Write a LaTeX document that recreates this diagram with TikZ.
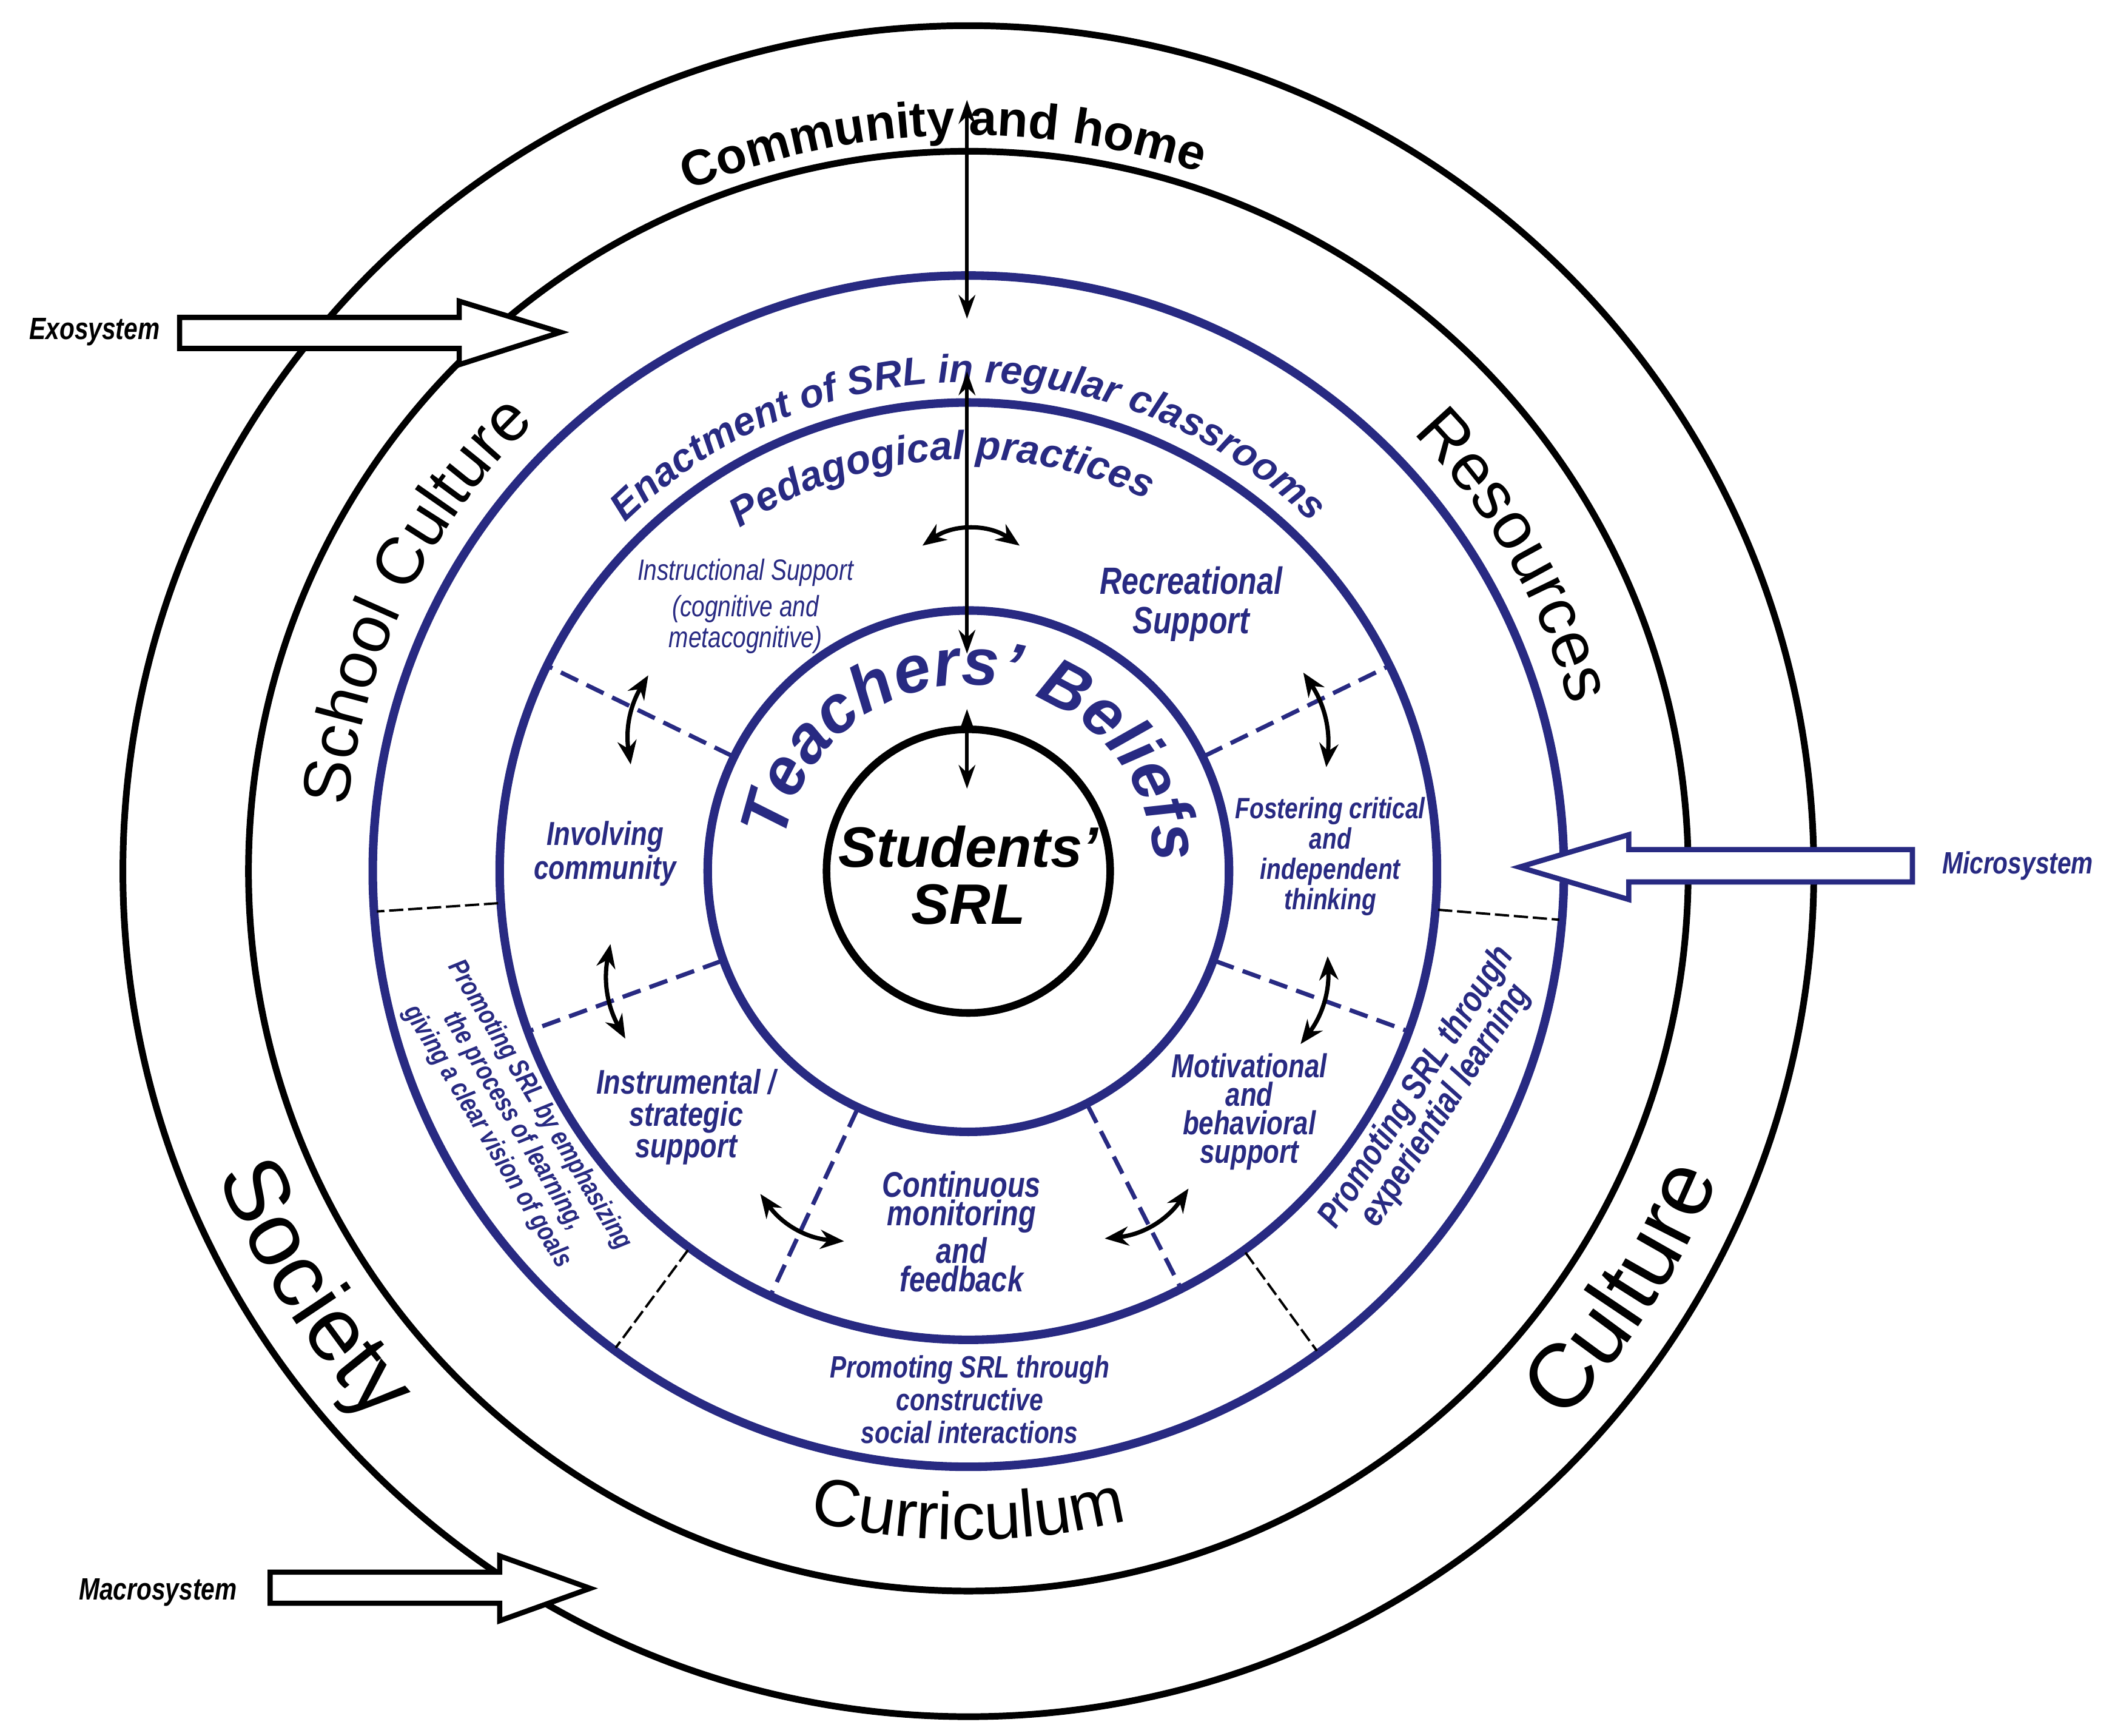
\documentclass[tikz,border=0pt]{standalone}
\usepackage{fontspec}
\setmainfont{Liberation Sans}
\newfontfamily\nar{Liberation Sans}[FakeStretch=0.8]
\usetikzlibrary{decorations.text,arrows.meta}
\definecolor{navy}{RGB}{40,42,130}
\newcommand\arctext[6]{%
\path[decorate,decoration={text along path,text align=center,text color=#4,text={|#5|#6}}] (#2:#1) arc[start angle=#2,end angle=#3,radius=#1];}
\begin{document}
\begin{tikzpicture}[x=0.01cm,y=0.01cm,
 ring/.style={line width=1.4pt,draw=black},
 bring/.style={line width=1.8pt,draw=navy},
 lab/.style={font=\nar\bfseries\itshape, text=navy, align=center, inner sep=0pt},
 blab/.style={font=\nar\bfseries\itshape, text=black, align=center, inner sep=0pt},
 dbl/.style={line width=0.8pt,{Stealth[length=5pt,width=3.5pt]}-{Stealth[length=5pt,width=3.5pt]}},
 cur/.style={line width=0.9pt,{Stealth[length=5pt,width=4pt]}-{Stealth[length=5pt,width=4pt]}},
 bdash/.style={draw=navy,line width=0.9pt,dash pattern=on 4pt off 2pt},
 kdash/.style={draw=black,line width=0.5pt,dash pattern=on 3pt off 1pt},
 blk/.style={fill=white,line width=1.1pt,line join=miter}]
\useasboundingbox (-717,-640) rectangle (849,645);
% circles
\draw[ring] (0,0) circle[radius=626];
\draw[ring] (0,0) circle[radius=533];
\draw[bring] (0,0) circle[radius=441];
\draw[bring] (0,0) circle[radius=347];
\draw[bring] (0,0) circle[radius=193];
\draw[line width=1.6pt] (0,0) circle[radius=105];
% dashed separators
\foreach \a in {154,26,200,340,245,297} \draw[bdash] (\a:195) -- (\a:347);
\foreach \a in {183.9,355.3,233.5,306} \draw[kdash] (\a:349) -- (\a:439);
% arc texts
\arctext{545}{142}{42}{black}{\bfseries\fontsize{10.5}{12}\selectfont}{Community  and  home}
\arctext{462}{200}{108}{black}{\fontsize{14}{16}\selectfont}{School Culture}
\arctext{462}{72}{-12}{black}{\fontsize{14}{16}\selectfont}{Resources}
\arctext{600}{180}{245}{black}{\fontsize{19}{22}\selectfont}{Society}
\arctext{600}{295}{360}{black}{\fontsize{19}{22}\selectfont}{Culture}
\arctext{495}{235}{305}{black}{\fontsize{14}{16}\selectfont}{Curriculum}
\arctext{362}{146}{34}{navy}{\bfseries\itshape\fontsize{8.3}{10}\selectfont}{Enactment of SRL  in regular classrooms}
\arctext{305}{139}{49}{navy}{\bfseries\itshape\fontsize{8.5}{10}\selectfont}{Pedagogical  practices}
\arctext{138}{175}{-2}{navy}{\bfseries\itshape\fontsize{14}{16}\selectfont}{Teachers’ Beliefs}
% center
\node[font=\bfseries\itshape\fontsize{12}{12}\selectfont,align=center] (stu) at (0,-3) {Students’\\SRL};
% labels in pedagogical ring
\node[lab,font=\nar\itshape\fontsize{6.2}{6.6}\selectfont] (ins) at (-165,196) {Instructional Support\\[1pt](cognitive and\\metacognitive)};
\node[lab,font=\nar\bfseries\itshape\fontsize{8}{8.3}\selectfont] (rec) at (165,198) {Recreational\\Support};
\node[lab,font=\nar\bfseries\itshape\fontsize{7}{7.2}\selectfont] (inv) at (-269,13) {Involving\\community};
\node[lab,font=\nar\bfseries\itshape\fontsize{6.2}{6.4}\selectfont] (fos) at (268,11) {Fostering critical\\and\\independent\\thinking};
\node[lab,font=\nar\bfseries\itshape\fontsize{7.2}{6.7}\selectfont] (ist) at (-209,-182) {Instrumental /\\strategic\\support};
\node[lab,font=\nar\bfseries\itshape\fontsize{7}{6}\selectfont] (mot) at (208,-178) {Motivational\\and\\behavioral\\support};
\node[lab,font=\nar\bfseries\itshape\fontsize{7.5}{6}\selectfont] (con) at (-5,-267) {Continuous\\monitoring\\and\\feedback};
% labels in enactment ring
\node[lab,font=\nar\bfseries\itshape\fontsize{6.5}{6.9}\selectfont] (soc) at (1,-391) {Promoting SRL through\\constructive\\social interactions};
\node[lab,font=\nar\bfseries\itshape\fontsize{5.8}{4.6}\selectfont,rotate=-59] (emp) at (-337,-185) {Promoting SRL by emphasizing\\the process of learning,\\giving a clear vision of goals};
\node[lab,font=\nar\bfseries\itshape\fontsize{7.6}{7.2}\selectfont,rotate=57] (exp) at (343,-167) {Promoting SRL through\\experiential learning};
% vertical arrows
\coordinate (v1) at (-1,571); \coordinate (v2) at (-1,409);
\coordinate (v3) at (-1,370); \coordinate (v4) at (-1,161);
\coordinate (v5) at (-1,120); \coordinate (v6) at (-1,61);
\draw[dbl] (v1) -- (v2);
\draw[dbl] (v3) -- (v4);
\draw[dbl] (v5) -- (v6);
% curved arrows
\coordinate (c1a) at (-34,241); \coordinate (c1b) at (38,241);
\coordinate (c2a) at (-237,145); \coordinate (c2b) at (-250,79);
\coordinate (c3a) at (248,147); \coordinate (c3b) at (265,77);
\coordinate (c4a) at (-265,-54); \coordinate (c4b) at (-254,-124);
\coordinate (c5a) at (266,-63); \coordinate (c5b) at (246,-128);
\coordinate (c6a) at (-154,-239); \coordinate (c6b) at (-92,-274);
\coordinate (c7a) at (163,-235); \coordinate (c7b) at (101,-272);
\draw[cur] (c1a) to[bend left=35] (c1b);
\draw[cur] (c2a) to[bend right=20] (c2b);
\draw[cur] (c3a) to[bend left=20] (c3b);
\draw[cur] (c4a) to[bend right=20] (c4b);
\draw[cur] (c5a) to[bend left=20] (c5b);
\draw[cur] (c6a) to[bend right=25] (c6b);
\draw[cur] (c7a) to[bend left=25] (c7b);
% block arrows
\draw[blk] (-584,410) -- (-377,410) -- (-377,422) -- (-302,399) -- (-377,375) -- (-377,387) -- (-584,387) -- cycle;
\draw[blk] (-517,-519) -- (-347,-519) -- (-347,-507) -- (-280,-531) -- (-347,-555) -- (-347,-542) -- (-517,-542) -- cycle;
\draw[blk,draw=navy] (699,16) -- (489,16) -- (489,27) -- (408,3) -- (489,-21) -- (489,-8) -- (699,-8) -- cycle;
\node[blab,font=\nar\bfseries\itshape\fontsize{6.5}{7}\selectfont] (exo) at (-647,399) {Exosystem};
\node[blab,font=\nar\bfseries\itshape\fontsize{6.5}{7}\selectfont] (mac) at (-600,-534) {Macrosystem};
\node[lab,font=\nar\bfseries\itshape\fontsize{6.5}{7}\selectfont] (mic) at (777,4) {Microsystem};
\end{tikzpicture}
\end{document}
